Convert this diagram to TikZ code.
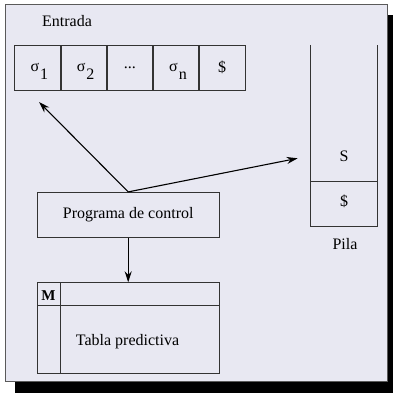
\documentclass[tikz,border=0pt]{standalone}
\usepackage{fontspec}
\setmainfont{Liberation Serif}
\usetikzlibrary{arrows.meta}
\definecolor{bgl}{HTML}{E8E8F2}
\definecolor{frm}{HTML}{5A5A5A}
\definecolor{ln}{HTML}{333333}
\tikzset{
  cell/.style={draw=ln, line width=0.8pt, minimum width=45.4pt, minimum height=45pt, inner sep=0pt, font=\fontsize{16}{16}\selectfont},
  lbl/.style={inner sep=0pt, font=\fontsize{16}{16}\selectfont},
  arr/.style={draw=black, line width=1.1pt, -{Stealth[length=11pt,width=7pt]}},
  ln/.style={draw=ln, line width=0.8pt}
}
\newcommand{\sig}[1]{\hspace{4pt}σ\hspace{1pt}\smash{\raisebox{-8pt}{#1}}}
\begin{document}
\begin{tikzpicture}[x=1pt,y=-1pt]
\useasboundingbox (0,0) rectangle (393,393);
\fill[white] (0,0) rectangle (393,393);
\fill[black] (15,15) rectangle (393,393);
\draw[frm, fill=bgl, line width=1pt] (5,5) rectangle (387.5,381.5);
\node[lbl] (entrada) at (67,21) {Entrada};
% tape
\node[cell] (c1) at (37.4,67.5) {\sig{1}};
\node[cell, anchor=west] (c2) at (c1.east) {\sig{2}};
\node[cell, anchor=west] (c3) at (c2.east) {...};
\node[cell, anchor=west] (c4) at (c3.east) {\sig{n}};
\node[cell, anchor=west] (c5) at (c4.east) {\$};
% stack
\draw[ln] (310,45) -- (310,226) -- (377.3,226) -- (377.3,45);
\draw[ln] (310,181.7) -- (377.3,181.7);
\node[lbl] (s) at (344,156) {S};
\node[lbl] (d) at (344,201) {\$};
\node[lbl] (pila) at (345,244) {Pila};
% control
\node[draw=ln, line width=0.8pt, minimum width=181.7pt, minimum height=45pt, inner sep=0pt, font=\fontsize{16}{16}\selectfont] (prog) at (128.2,214.8) {Programa de control};
\coordinate (t1) at (39,102);
\coordinate (t2) at (297.7,158.3);
\draw[arr] (prog.north) -- (t1);
\draw[arr] (prog.north) -- (t2);
% table
\node[draw=ln, line width=0.8pt, minimum width=181.7pt, minimum height=90.6pt, inner sep=0pt] (tab) at (128.2,328) {};
\draw[arr] (prog.south) -- (tab.north);
\draw[ln] (37.3,305.3) -- (219,305.3);
\draw[ln] (60.3,282.7) -- (60.3,373.3);
\node[lbl, font=\fontsize{15}{15}\selectfont\bfseries] (m) at (48.5,295.5) {M};
\node[lbl] (tp) at (127.5,341.5) {Tabla predictiva};
\end{tikzpicture}
\end{document}
